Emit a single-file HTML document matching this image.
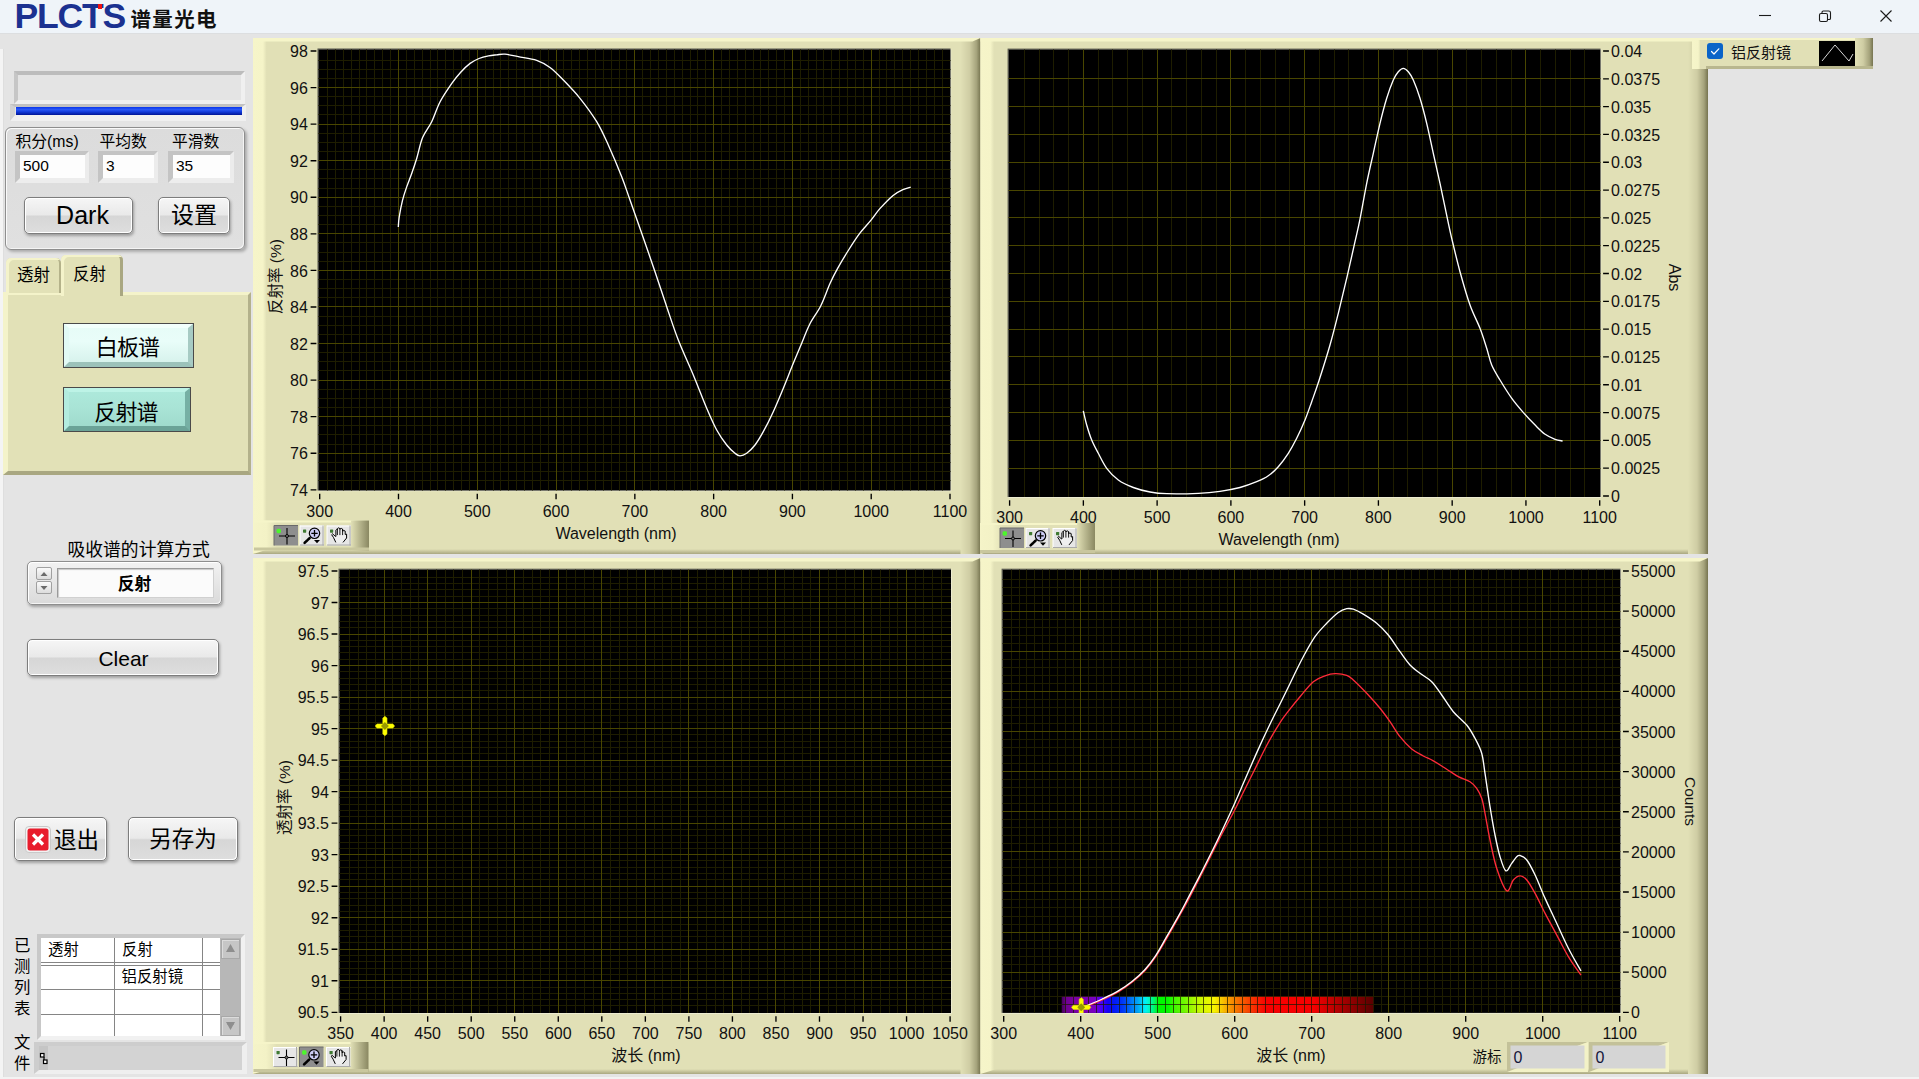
<!DOCTYPE html>
<html lang="zh-CN"><head><meta charset="utf-8"><title>谱量光电</title>
<style>
html,body{margin:0;padding:0;background:#e4e4e4;}
body{width:1919px;height:1079px;overflow:hidden;font-family:"Liberation Sans","Noto Sans CJK SC",sans-serif;color:#000;}
#app{position:relative;width:1919px;height:1079px;overflow:hidden;background:#e4e4e4;}
#app div,#app span{position:absolute;box-sizing:border-box;white-space:nowrap;}
.titlebar{left:0;top:0;width:1919px;height:34px;background:#eff4f9;border-bottom:1px solid #dcdee0;}
.logo{left:14.5px;top:-5px;font-size:35.6px;font-weight:bold;color:#1b3190;letter-spacing:-1.25px;line-height:42px;}
.logodot{left:97.5px;top:3.8px;width:4.4px;height:5px;background:#f01212;}
.brand{left:130.5px;top:4.7px;font-size:20.5px;font-weight:bold;line-height:30px;color:#111;letter-spacing:1.35px;}
.edgeL{left:0;top:49px;width:4px;height:1030px;background:#f4f4f4;border-right:1px solid #dedede;}
.edgeB{left:0;top:1077px;width:1919px;height:2px;background:#f3f3f3;}
/* sunken generic */
.sunk{border-style:solid;border-width:4px;border-color:#bcbcbc #f0f0f0 #f0f0f0 #c6c6c6;}
.msg{left:14px;top:71px;width:231px;height:33px;background:#e4e4e4;}
.progwrap{left:10px;top:104px;width:236px;height:17px;border-style:solid;border-width:3px 4px 6px 5px;border-color:#c2c2c2 #efefef #f0f0f0 #d2d2d2;}
.prog{left:15.5px;top:106.7px;width:226.5px;height:8.6px;background:linear-gradient(#0a36ee 0%,#2a58f6 32%,#1038d8 62%,#001494 100%);}
.group{left:5px;top:127px;width:240px;height:123px;border:1px solid #8e8e8e;border-radius:6px;background:linear-gradient(#dcdcdc,#e0e0e0);box-shadow:inset 1px 1px 0 #fafafa,inset -1px -1px 0 #f4f4f4,2px 2px 3px rgba(0,0,0,.25);}
.lab15{font-size:15.8px;line-height:18px;}
.num{background:#fdfdfd;border-style:solid;border-width:4px 4px 5px 5px;border-color:#c4c4c4 #ececec #ededed #c4c4c4;font-size:15.5px;line-height:21.5px;padding-left:3px;}
.btn{border:1px solid #7d7d7d;border-radius:5px;background:linear-gradient(#f6f6f6 0%,#e9e9e9 48%,#d6d6d6 52%,#dedede 100%);box-shadow:inset 1px 1px 0 #fff,inset -1px -1px 0 #fff,1px 2px 3px rgba(0,0,0,.3);text-align:center;}
.tab{background:#e2e1b7;border-radius:5px 5px 0 0;font-size:16.5px;text-align:center;box-shadow:inset 3px 2px 0 #f4f3ca,inset -2px 0 0 #b4b28a;}
.tabbody{left:3px;top:292px;width:248px;height:183px;background:#e2e1b7;border-style:solid;border-width:3px 3px 4px 5px;border-color:#f4f3ca #b3b18b #a9a781 #f4f3ca;}
.cy1{left:63px;top:323px;width:131px;height:45px;border:1px solid #4a4a4a;background:linear-gradient(#e6fcf7 0%,#e9fdf9 40%,#d3f0ea 100%);font-size:22px;letter-spacing:-.9px;line-height:48px;text-align:center;padding-right:2px;}
.cy2{left:63px;top:387px;width:128px;height:45px;border:1px solid #4a4a4a;background:linear-gradient(#aeeadc 0%,#a9e4d6 45%,#9dd9ca 100%);font-size:22px;letter-spacing:-.9px;line-height:49px;text-align:center;padding-right:2px;}
.ring{left:27px;top:561px;width:195px;height:44px;border:1px solid #8e8e8e;border-radius:5px;background:linear-gradient(#f2f2f2,#dadada);box-shadow:inset 1px 1px 0 #fff,inset -1px -1px 0 #f4f4f4,1px 2px 3px rgba(0,0,0,.3);}
.ringtxt{left:57px;top:568px;width:157px;height:30px;background:#fbfbfb;border:1px solid #9a9a9a;border-bottom-color:#d0d0d0;border-right-color:#d0d0d0;font-size:16.8px;font-weight:bold;line-height:31px;text-align:center;padding-right:2px;box-shadow:inset 1px 1px 1px #c8c8c8;}
.spin{left:36px;width:16px;height:13px;border:1px solid #a0a0a0;border-radius:2px;background:linear-gradient(#fafafa,#dcdcdc);}
.tbl{left:37px;top:934px;width:208px;height:106px;border-style:solid;border-width:4px;border-color:#c8c8c8 #f1f1f1 #f1f1f1 #c8c8c8;background:#fff;}
.cell{font-size:15.4px;line-height:18px;}
.vline{width:1px;background:#858585;}
.hline{height:1px;background:#858585;}
.sbar{left:220px;top:938px;width:21px;height:98px;background:#b7b7b7;}
.sbtn{left:221px;width:19px;height:20px;background:#c6c6c6;border:1px solid #a8a8a8;box-shadow:inset 1px 1px 0 #dcdcdc;}
.vtxt{font-size:16.4px;line-height:21px;width:16px;white-space:normal !important;text-align:center;}
.path{left:34px;top:1042px;width:213px;height:32px;border-style:solid;border-width:4px 5px 4px 5px;border-color:#cdcdcd #efefef #efefef #cdcdcd;background:#d3d3d3;}

.bev{left:0;top:0;right:0;bottom:0;border-style:solid;border-width:4px 5px 5px 5px;}

</style></head><body>
<div id="app">
<svg width="1919" height="1079" viewBox="0 0 1919 1079" style="position:absolute;left:0;top:0" font-family='Liberation Sans, Noto Sans CJK SC, sans-serif' font-size="16" fill="#111">
<defs>
<linearGradient id="bvl" x1="0" x2="1" y1="0" y2="0"><stop offset="0" stop-color="#f6f5c9"/><stop offset=".62" stop-color="#f5f4c8"/><stop offset=".85" stop-color="#e1e0b6"/></linearGradient>
<linearGradient id="bvr" x1="0" x2="1" y1="0" y2="0"><stop offset="0" stop-color="#e1e0b6"/><stop offset=".45" stop-color="#cfcda4"/><stop offset=".8" stop-color="#a5a37c"/><stop offset="1" stop-color="#767450"/></linearGradient>
<linearGradient id="bvb" x1="0" x2="0" y1="0" y2="1"><stop offset="0" stop-color="#e1e0b6"/><stop offset="1" stop-color="#a9a780"/></linearGradient>
<linearGradient id="palg" x1="0" x2="1" y1="0" y2="0"><stop offset="0" stop-color="#f5f4c8"/><stop offset=".11" stop-color="#f3f2c6"/><stop offset=".2" stop-color="#e1e0b6"/><stop offset="1" stop-color="#e1e0b6"/></linearGradient>
<linearGradient id="palr" x1="0" x2="1" y1="0" y2="0"><stop offset="0" stop-color="#e1e0b6"/><stop offset="1" stop-color="#8a8862"/></linearGradient>
<linearGradient id="spec" x1="0" x2="1" y1="0" y2="0"><stop offset="0.0000" stop-color="#46005a"/><stop offset="0.0074" stop-color="#5c0078"/><stop offset="0.0149" stop-color="#730096"/><stop offset="0.0223" stop-color="#76009b"/><stop offset="0.0297" stop-color="#79009f"/><stop offset="0.0371" stop-color="#7b00a4"/><stop offset="0.0446" stop-color="#7e00a9"/><stop offset="0.0520" stop-color="#8000ad"/><stop offset="0.0594" stop-color="#7f00b1"/><stop offset="0.0668" stop-color="#7f00b5"/><stop offset="0.0743" stop-color="#7f00b8"/><stop offset="0.0817" stop-color="#7e00bc"/><stop offset="0.0891" stop-color="#7e00bf"/><stop offset="0.0965" stop-color="#7e00c3"/><stop offset="0.1040" stop-color="#7d00c7"/><stop offset="0.1114" stop-color="#7200d8"/><stop offset="0.1188" stop-color="#6000ef"/><stop offset="0.1262" stop-color="#4e00ff"/><stop offset="0.1337" stop-color="#3b00ff"/><stop offset="0.1411" stop-color="#2800ff"/><stop offset="0.1485" stop-color="#1400ff"/><stop offset="0.1559" stop-color="#0e09ff"/><stop offset="0.1634" stop-color="#0812ff"/><stop offset="0.1708" stop-color="#021bff"/><stop offset="0.1782" stop-color="#0024ff"/><stop offset="0.1856" stop-color="#002dff"/><stop offset="0.1931" stop-color="#0036ff"/><stop offset="0.2005" stop-color="#0042ff"/><stop offset="0.2079" stop-color="#0054ff"/><stop offset="0.2153" stop-color="#0066ff"/><stop offset="0.2228" stop-color="#0078ff"/><stop offset="0.2302" stop-color="#008aff"/><stop offset="0.2376" stop-color="#009cff"/><stop offset="0.2450" stop-color="#00aeff"/><stop offset="0.2525" stop-color="#00c5ff"/><stop offset="0.2599" stop-color="#00deff"/><stop offset="0.2673" stop-color="#00f7ff"/><stop offset="0.2748" stop-color="#00ffe5"/><stop offset="0.2822" stop-color="#00ffbf"/><stop offset="0.2896" stop-color="#00ff99"/><stop offset="0.2970" stop-color="#00ff69"/><stop offset="0.3045" stop-color="#00ff34"/><stop offset="0.3119" stop-color="#00ff00"/><stop offset="0.3193" stop-color="#00ff00"/><stop offset="0.3267" stop-color="#00ff00"/><stop offset="0.3342" stop-color="#00ff00"/><stop offset="0.3416" stop-color="#07ff00"/><stop offset="0.3490" stop-color="#1cff00"/><stop offset="0.3564" stop-color="#31ff00"/><stop offset="0.3639" stop-color="#46ff00"/><stop offset="0.3713" stop-color="#52ff00"/><stop offset="0.3787" stop-color="#5dff00"/><stop offset="0.3861" stop-color="#69ff00"/><stop offset="0.3936" stop-color="#74ff00"/><stop offset="0.4010" stop-color="#81ff00"/><stop offset="0.4084" stop-color="#8fff00"/><stop offset="0.4158" stop-color="#9dff00"/><stop offset="0.4233" stop-color="#abff00"/><stop offset="0.4307" stop-color="#b8ff00"/><stop offset="0.4381" stop-color="#c3ff00"/><stop offset="0.4455" stop-color="#ceff00"/><stop offset="0.4530" stop-color="#daff00"/><stop offset="0.4604" stop-color="#e4ff00"/><stop offset="0.4678" stop-color="#ebff00"/><stop offset="0.4752" stop-color="#f2ff00"/><stop offset="0.4827" stop-color="#faff00"/><stop offset="0.4901" stop-color="#fffa00"/><stop offset="0.4975" stop-color="#ffec00"/><stop offset="0.5050" stop-color="#ffde00"/><stop offset="0.5124" stop-color="#ffd000"/><stop offset="0.5198" stop-color="#ffc200"/><stop offset="0.5272" stop-color="#ffb300"/><stop offset="0.5347" stop-color="#ffa500"/><stop offset="0.5421" stop-color="#ff9800"/><stop offset="0.5495" stop-color="#ff8c00"/><stop offset="0.5569" stop-color="#ff8000"/><stop offset="0.5644" stop-color="#ff7500"/><stop offset="0.5718" stop-color="#ff6b00"/><stop offset="0.5792" stop-color="#ff6100"/><stop offset="0.5866" stop-color="#ff5700"/><stop offset="0.5941" stop-color="#ff4d00"/><stop offset="0.6015" stop-color="#ff4300"/><stop offset="0.6089" stop-color="#ff3900"/><stop offset="0.6163" stop-color="#ff3000"/><stop offset="0.6238" stop-color="#ff2700"/><stop offset="0.6312" stop-color="#ff1e00"/><stop offset="0.6386" stop-color="#ff1500"/><stop offset="0.6460" stop-color="#ff0c00"/><stop offset="0.6535" stop-color="#ff0300"/><stop offset="0.6609" stop-color="#ff0000"/><stop offset="0.6683" stop-color="#ff0000"/><stop offset="0.6757" stop-color="#ff0000"/><stop offset="0.6832" stop-color="#ff0000"/><stop offset="0.6906" stop-color="#ff0000"/><stop offset="0.6980" stop-color="#ff0000"/><stop offset="0.7054" stop-color="#ff0000"/><stop offset="0.7129" stop-color="#ff0000"/><stop offset="0.7203" stop-color="#ff0000"/><stop offset="0.7277" stop-color="#ff0000"/><stop offset="0.7351" stop-color="#ff0000"/><stop offset="0.7426" stop-color="#ff0000"/><stop offset="0.7500" stop-color="#ff0000"/><stop offset="0.7574" stop-color="#ff0000"/><stop offset="0.7649" stop-color="#ff0000"/><stop offset="0.7723" stop-color="#ff0000"/><stop offset="0.7797" stop-color="#ff0000"/><stop offset="0.7871" stop-color="#ff0000"/><stop offset="0.7946" stop-color="#ff0000"/><stop offset="0.8020" stop-color="#ff0000"/><stop offset="0.8094" stop-color="#fb0000"/><stop offset="0.8168" stop-color="#f40000"/><stop offset="0.8243" stop-color="#ee0000"/><stop offset="0.8317" stop-color="#e80000"/><stop offset="0.8391" stop-color="#e10000"/><stop offset="0.8465" stop-color="#db0000"/><stop offset="0.8540" stop-color="#d40000"/><stop offset="0.8614" stop-color="#ce0000"/><stop offset="0.8688" stop-color="#c80000"/><stop offset="0.8762" stop-color="#c10000"/><stop offset="0.8837" stop-color="#bb0000"/><stop offset="0.8911" stop-color="#b50000"/><stop offset="0.8985" stop-color="#ae0000"/><stop offset="0.9059" stop-color="#a80000"/><stop offset="0.9134" stop-color="#a20000"/><stop offset="0.9208" stop-color="#9c0000"/><stop offset="0.9282" stop-color="#960000"/><stop offset="0.9356" stop-color="#900000"/><stop offset="0.9431" stop-color="#8a0000"/><stop offset="0.9505" stop-color="#840000"/><stop offset="0.9579" stop-color="#7e0000"/><stop offset="0.9653" stop-color="#780000"/><stop offset="0.9728" stop-color="#720000"/><stop offset="0.9802" stop-color="#6c0000"/><stop offset="0.9876" stop-color="#660000"/><stop offset="0.9950" stop-color="#600000"/></linearGradient>
</defs>
<rect x="253" y="38" width="727.5" height="516" fill="#e1e0b6"/>
<rect x="253" y="549" width="727.5" height="5" fill="url(#bvb)"/>
<rect x="960.5" y="38" width="20" height="516" fill="url(#bvr)"/>
<polygon points="253,38 269,38 269,549 253,554" fill="url(#bvl)"/>
<polygon points="253,38 980.5,38 972.5,41.5 253,41.5" fill="#f6f5c9"/>
<rect x="317.5" y="48.5" width="633" height="442" fill="#55554a"/>
<rect x="318.4" y="49.4" width="632.8" height="441.8" fill="#f1f0dc"/>
<rect x="318.4" y="49.4" width="632.1" height="441.1" fill="#000"/>
<path d="M327.5 49.4V490.5M335.5 49.4V490.5M343.5 49.4V490.5M351.5 49.4V490.5M359.5 49.4V490.5M366.5 49.4V490.5M374.5 49.4V490.5M382.5 49.4V490.5M390.5 49.4V490.5M406.5 49.4V490.5M414.5 49.4V490.5M422.5 49.4V490.5M430.5 49.4V490.5M437.5 49.4V490.5M445.5 49.4V490.5M453.5 49.4V490.5M461.5 49.4V490.5M469.5 49.4V490.5M485.5 49.4V490.5M493.5 49.4V490.5M500.5 49.4V490.5M508.5 49.4V490.5M516.5 49.4V490.5M524.5 49.4V490.5M532.5 49.4V490.5M540.5 49.4V490.5M548.5 49.4V490.5M563.5 49.4V490.5M571.5 49.4V490.5M579.5 49.4V490.5M587.5 49.4V490.5M595.5 49.4V490.5M603.5 49.4V490.5M611.5 49.4V490.5M619.5 49.4V490.5M626.5 49.4V490.5M642.5 49.4V490.5M650.5 49.4V490.5M658.5 49.4V490.5M666.5 49.4V490.5M674.5 49.4V490.5M682.5 49.4V490.5M690.5 49.4V490.5M697.5 49.4V490.5M705.5 49.4V490.5M721.5 49.4V490.5M729.5 49.4V490.5M737.5 49.4V490.5M745.5 49.4V490.5M753.5 49.4V490.5M760.5 49.4V490.5M768.5 49.4V490.5M776.5 49.4V490.5M784.5 49.4V490.5M800.5 49.4V490.5M808.5 49.4V490.5M816.5 49.4V490.5M823.5 49.4V490.5M831.5 49.4V490.5M839.5 49.4V490.5M847.5 49.4V490.5M855.5 49.4V490.5M863.5 49.4V490.5M879.5 49.4V490.5M886.5 49.4V490.5M894.5 49.4V490.5M902.5 49.4V490.5M910.5 49.4V490.5M918.5 49.4V490.5M926.5 49.4V490.5M934.5 49.4V490.5M942.5 49.4V490.5M318.4 60.5H950.5M318.4 69.5H950.5M318.4 78.5H950.5M318.4 96.5H950.5M318.4 105.5H950.5M318.4 114.5H950.5M318.4 133.5H950.5M318.4 142.5H950.5M318.4 151.5H950.5M318.4 169.5H950.5M318.4 178.5H950.5M318.4 188.5H950.5M318.4 206.5H950.5M318.4 215.5H950.5M318.4 224.5H950.5M318.4 242.5H950.5M318.4 252.5H950.5M318.4 261.5H950.5M318.4 279.5H950.5M318.4 288.5H950.5M318.4 297.5H950.5M318.4 316.5H950.5M318.4 325.5H950.5M318.4 334.5H950.5M318.4 352.5H950.5M318.4 361.5H950.5M318.4 370.5H950.5M318.4 389.5H950.5M318.4 398.5H950.5M318.4 407.5H950.5M318.4 425.5H950.5M318.4 434.5H950.5M318.4 444.5H950.5M318.4 462.5H950.5M318.4 471.5H950.5M318.4 480.5H950.5" stroke="#1e1d00" stroke-width="1" fill="none"/>
<path d="M398.5 49.4V490.5M477.5 49.4V490.5M556.5 49.4V490.5M634.5 49.4V490.5M713.5 49.4V490.5M792.5 49.4V490.5M871.5 49.4V490.5M318.4 87.5H950.5M318.4 124.5H950.5M318.4 160.5H950.5M318.4 197.5H950.5M318.4 233.5H950.5M318.4 270.5H950.5M318.4 306.5H950.5M318.4 343.5H950.5M318.4 380.5H950.5M318.4 416.5H950.5M318.4 453.5H950.5" stroke="#494600" stroke-width="1" fill="none"/>
<text x="307.8" y="57.1" text-anchor="end">98</text>
<text x="307.8" y="93.67" text-anchor="end">96</text>
<text x="307.8" y="130.23" text-anchor="end">94</text>
<text x="307.8" y="166.8" text-anchor="end">92</text>
<text x="307.8" y="203.37" text-anchor="end">90</text>
<text x="307.8" y="239.93" text-anchor="end">88</text>
<text x="307.8" y="276.5" text-anchor="end">86</text>
<text x="307.8" y="313.07" text-anchor="end">84</text>
<text x="307.8" y="349.63" text-anchor="end">82</text>
<text x="307.8" y="386.2" text-anchor="end">80</text>
<text x="307.8" y="422.77" text-anchor="end">78</text>
<text x="307.8" y="459.33" text-anchor="end">76</text>
<text x="307.8" y="495.9" text-anchor="end">74</text>
<path d="M310.6 51h5.8M310.6 87.57h5.8M310.6 124.13h5.8M310.6 160.7h5.8M310.6 197.27h5.8M310.6 233.83h5.8M310.6 270.4h5.8M310.6 306.97h5.8M310.6 343.53h5.8M310.6 380.1h5.8M310.6 416.67h5.8M310.6 453.23h5.8M310.6 489.8h5.8" stroke="#000" stroke-width="1.35" fill="none"/>
<text x="319.7" y="516.5" text-anchor="middle">300</text>
<text x="398.49" y="516.5" text-anchor="middle">400</text>
<text x="477.27" y="516.5" text-anchor="middle">500</text>
<text x="556.06" y="516.5" text-anchor="middle">600</text>
<text x="634.85" y="516.5" text-anchor="middle">700</text>
<text x="713.64" y="516.5" text-anchor="middle">800</text>
<text x="792.42" y="516.5" text-anchor="middle">900</text>
<text x="871.21" y="516.5" text-anchor="middle">1000</text>
<text x="950" y="516.5" text-anchor="middle">1100</text>
<path d="M319.7 493.7v5.6M398.49 493.7v5.6M477.27 493.7v5.6M556.06 493.7v5.6M634.85 493.7v5.6M713.64 493.7v5.6M792.42 493.7v5.6M871.21 493.7v5.6M950 493.7v5.6" stroke="#000" stroke-width="1.35" fill="none"/>
<text x="616" y="539" text-anchor="middle">Wavelength (nm)</text>
<text transform="translate(281 276.500) rotate(-90)" text-anchor="middle" font-size="15.5">反射率 (%)</text>
<path d="M398.3 227 C398.45 225.33 398.5 221.45 399.2 217 C399.9 212.55 401.25 205.32 402.5 200.3 C403.75 195.28 405.17 191.37 406.7 186.9 C408.23 182.43 410.03 178.23 411.7 173.5 C413.37 168.77 414.88 164.48 416.7 158.5 C418.52 152.52 420.1 143.72 422.6 137.6 C425.1 131.48 428.78 127.77 431.7 121.8 C434.62 115.83 436.75 108.2 440.1 101.8 C443.45 95.4 448.4 88.28 451.8 83.4 C455.2 78.52 457.45 75.83 460.5 72.5 C463.55 69.17 467.02 65.73 470.1 63.4 C473.18 61.07 475.93 59.77 479 58.5 C482.07 57.23 485.55 56.42 488.5 55.8 C491.45 55.18 493.95 55.07 496.7 54.8 C499.45 54.53 501.4 53.88 505 54.2 C508.6 54.52 513.02 55.68 518.3 56.7 C523.58 57.72 531.42 58.5 536.7 60.3 C541.98 62.1 545.57 64.22 550 67.5 C554.43 70.78 558.3 74.87 563.3 80 C568.3 85.13 574.43 91.35 580 98.3 C585.57 105.25 591.98 113.92 596.7 121.7 C601.42 129.48 604.13 135.83 608.3 145 C612.47 154.17 618.08 167.53 621.7 176.7 C625.32 185.87 626.67 190.57 630 200 C633.33 209.43 637.53 221.35 641.7 233.3 C645.87 245.25 650.83 259.47 655 271.7 C659.17 283.93 662.82 295.32 666.7 306.7 C670.58 318.08 673.87 328.62 678.3 340 C682.73 351.38 688.57 363.62 693.3 375 C698.03 386.38 702.8 399.13 706.7 408.3 C710.6 417.47 713.37 423.88 716.7 430 C720.03 436.12 723.65 441.12 726.7 445 C729.75 448.88 732.78 451.5 735 453.3 C737.22 455.1 738.05 455.8 740 455.8 C741.95 455.8 744.2 455.1 746.7 453.3 C749.2 451.5 752.23 448.6 755 445 C757.77 441.4 760.25 437.25 763.3 431.7 C766.35 426.15 769.97 418.93 773.3 411.7 C776.63 404.47 779.97 396.37 783.3 388.3 C786.63 380.23 790.23 370.8 793.3 363.3 C796.37 355.8 798.97 349.82 801.7 343.3 C804.43 336.78 806.52 330.47 809.7 324.2 C812.88 317.93 817.42 312.48 820.8 305.7 C824.18 298.92 827.22 289.68 830 283.5 C832.78 277.32 834.4 274.18 837.5 268.6 C840.6 263.02 844.9 255.87 848.6 250 C852.3 244.13 856 238.33 859.7 233.4 C863.4 228.47 867.4 224.57 870.8 220.4 C874.2 216.23 876.38 212.57 880.1 208.4 C883.82 204.23 889.4 198.48 893.1 195.4 C896.8 192.32 899.37 191.28 902.3 189.9 C905.23 188.52 909.3 187.57 910.7 187.1" stroke="#fff" stroke-width="1.35" fill="none"/>
<g transform="translate(254 520.5)">
<rect x="0" y="0" width="115" height="30" fill="url(#palg)"/>
<rect x="0" y="0" width="115" height="2" fill="#f6f5c9"/>
<rect x="97" y="0" width="18" height="30" fill="url(#palr)"/>
<rect x="0" y="27" width="115" height="3" fill="#c9c79e"/>
<rect x="20" y="5" width="24" height="20" fill="#8e8e8e"/>
<path d="M20 25V5H44" stroke="#6a6a6a" fill="none"/>
<rect x="22.6" y="8.3" width="4.4" height="4.4" rx="1.4" fill="#4cf62c"/>
<rect x="46" y="5" width="24" height="20" fill="#e6e6e6"/>
<path d="M46 5.5H70M46 5V25" stroke="#fff" fill="none"/>
<path d="M46 24.5H70M69 5V25" stroke="#aaa" fill="none"/>
<rect x="49" y="9" width="3.2" height="3.2" rx=".6" fill="#3f7a32"/>
<rect x="73" y="5" width="24" height="20" fill="#e6e6e6"/>
<path d="M73 5.5H97M73 5V25" stroke="#fff" fill="none"/>
<path d="M73 24.5H97M96 5V25" stroke="#aaa" fill="none"/>
<rect x="76" y="9" width="3.2" height="3.2" rx=".6" fill="#3f7a32"/>
<path d="M33 7.5V24M25 15.5H41" stroke="#000" stroke-width="1.1" fill="none"/>
<circle cx="33" cy="15.5" r="1.5" fill="#777" stroke="#000" stroke-width=".9"/>
<circle cx="60.5" cy="12.8" r="5.2" fill="#ccccf4" stroke="#000" stroke-width="1.2"/>
<path d="M57.3 12.8h6.4M60.5 9.6v6.4" stroke="#000" stroke-width="1.3"/>
<path d="M55.6 17.6L50.6 22.4" stroke="#000" stroke-width="2.6" stroke-linecap="round" stroke-dasharray="1.3 .6"/>
<path d="M60 19.6h6l-3 3.2z" fill="#000"/>
<g transform="translate(73 5)"><path d="M8.8 16.9L6.6 12.2L4.7 9.2L5.6 8.3L8.2 10.7L8.9 11V4.6Q9.65 3.2 10.4 4.6V3.1Q11.65 1.6 12.9 3.1V3.6Q14.25 2.2 15.6 3.6V5.6Q16.9 4.4 18.2 5.6V9L19.6 8.6V12.5L16 16.9" fill="#efefef" stroke="#000" stroke-width="1" stroke-linejoin="round"/><path d="M10.4 4.6V9.6M12.9 3.1V9.6M15.6 3.600V9.6" stroke="#000" stroke-width=".9" fill="none"/></g>
</g>
<rect x="980.5" y="38" width="727.5" height="516" fill="#e1e0b6"/>
<rect x="980.5" y="549" width="727.5" height="5" fill="url(#bvb)"/>
<rect x="1688" y="38" width="20" height="516" fill="url(#bvr)"/>
<polygon points="980.5,38 996.5,38 996.5,549 980.5,554" fill="url(#bvl)"/>
<polygon points="980.5,38 1708,38 1700,41.5 980.5,41.5" fill="#f6f5c9"/>
<rect x="1007.6" y="48.6" width="592.9" height="448.4" fill="#55554a"/>
<rect x="1008.5" y="49.5" width="592.7" height="448.2" fill="#f1f0dc"/>
<rect x="1008.5" y="49.5" width="592" height="447.5" fill="#000"/>
<path d="M1024.5 49.5V497M1039.5 49.5V497M1053.5 49.5V497M1068.5 49.5V497M1098.5 49.5V497M1112.5 49.5V497M1127.5 49.5V497M1142.5 49.5V497M1171.5 49.5V497M1186.5 49.5V497M1201.5 49.5V497M1216.5 49.5V497M1245.5 49.5V497M1260.5 49.5V497M1275.5 49.5V497M1289.5 49.5V497M1319.5 49.5V497M1334.5 49.5V497M1348.5 49.5V497M1363.5 49.5V497M1393.5 49.5V497M1407.5 49.5V497M1422.5 49.5V497M1437.5 49.5V497M1466.5 49.5V497M1481.5 49.5V497M1496.5 49.5V497M1511.5 49.5V497M1540.5 49.5V497M1555.5 49.5V497M1570.5 49.5V497M1584.5 49.5V497" stroke="#1e1d00" stroke-width="1" fill="none"/>
<path d="M1083.5 49.5V497M1157.5 49.5V497M1230.5 49.5V497M1304.5 49.5V497M1378.5 49.5V497M1452.5 49.5V497M1525.5 49.5V497M1008.5 78.5H1600.5M1008.5 106.5H1600.5M1008.5 134.5H1600.5M1008.5 162.5H1600.5M1008.5 190.5H1600.5M1008.5 217.5H1600.5M1008.5 245.5H1600.5M1008.5 273.5H1600.5M1008.5 301.5H1600.5M1008.5 329.5H1600.5M1008.5 356.5H1600.5M1008.5 384.5H1600.5M1008.5 412.5H1600.5M1008.5 440.5H1600.5M1008.5 468.5H1600.5" stroke="#494600" stroke-width="1" fill="none"/>
<text x="1611.1" y="57.1">0.04</text>
<text x="1611.1" y="84.91">0.0375</text>
<text x="1611.1" y="112.72">0.035</text>
<text x="1611.1" y="140.54">0.0325</text>
<text x="1611.1" y="168.35">0.03</text>
<text x="1611.1" y="196.16">0.0275</text>
<text x="1611.1" y="223.97">0.025</text>
<text x="1611.1" y="251.79">0.0225</text>
<text x="1611.1" y="279.6">0.02</text>
<text x="1611.1" y="307.41">0.0175</text>
<text x="1611.1" y="335.23">0.015</text>
<text x="1611.1" y="363.04">0.0125</text>
<text x="1611.1" y="390.85">0.01</text>
<text x="1611.1" y="418.66">0.0075</text>
<text x="1611.1" y="446.48">0.005</text>
<text x="1611.1" y="474.29">0.0025</text>
<text x="1611.1" y="502.1">0</text>
<path d="M1603.1 51h5.8M1603.1 78.81h5.8M1603.1 106.62h5.8M1603.1 134.44h5.8M1603.1 162.25h5.8M1603.1 190.06h5.8M1603.1 217.88h5.8M1603.1 245.69h5.8M1603.1 273.5h5.8M1603.1 301.31h5.8M1603.1 329.12h5.8M1603.1 356.94h5.8M1603.1 384.75h5.8M1603.1 412.56h5.8M1603.1 440.38h5.8M1603.1 468.19h5.8M1603.1 496h5.8" stroke="#000" stroke-width="1.35" fill="none"/>
<text x="1009.6" y="522.7" text-anchor="middle">300</text>
<text x="1083.36" y="522.7" text-anchor="middle">400</text>
<text x="1157.12" y="522.7" text-anchor="middle">500</text>
<text x="1230.89" y="522.7" text-anchor="middle">600</text>
<text x="1304.65" y="522.7" text-anchor="middle">700</text>
<text x="1378.41" y="522.7" text-anchor="middle">800</text>
<text x="1452.18" y="522.7" text-anchor="middle">900</text>
<text x="1525.94" y="522.7" text-anchor="middle">1000</text>
<text x="1599.7" y="522.7" text-anchor="middle">1100</text>
<path d="M1009.6 500.2v5.6M1083.36 500.2v5.6M1157.12 500.2v5.6M1230.89 500.2v5.6M1304.65 500.2v5.6M1378.41 500.2v5.6M1452.18 500.2v5.6M1525.94 500.2v5.6M1599.7 500.2v5.6" stroke="#000" stroke-width="1.35" fill="none"/>
<text x="1279" y="545" text-anchor="middle">Wavelength (nm)</text>
<text transform="translate(1668.500 277.500) rotate(90)" text-anchor="middle" font-size="16">Abs</text>
<path d="M1083.3 410.8 C1083.87 413.17 1085.3 420.13 1086.7 425 C1088.1 429.87 1089.77 435.28 1091.7 440 C1093.63 444.72 1095.8 448.58 1098.3 453.3 C1100.8 458.02 1103.37 463.85 1106.7 468.3 C1110.03 472.75 1113.87 476.8 1118.3 480 C1122.73 483.2 1128.02 485.5 1133.3 487.5 C1138.58 489.5 1144.43 490.97 1150 492 C1155.57 493.03 1158.65 493.48 1166.7 493.7 C1174.75 493.92 1189.42 493.7 1198.3 493.3 C1207.18 492.9 1213.05 492.27 1220 491.3 C1226.95 490.33 1233.88 489.1 1240 487.5 C1246.12 485.9 1251.98 483.65 1256.7 481.7 C1261.42 479.75 1264.7 478.3 1268.3 475.8 C1271.9 473.3 1274.97 470.45 1278.3 466.7 C1281.63 462.95 1285.23 458.03 1288.3 453.3 C1291.37 448.57 1293.92 443.85 1296.7 438.3 C1299.48 432.75 1302.5 426.1 1305 420 C1307.5 413.9 1309.33 408.37 1311.7 401.7 C1314.07 395.03 1316.15 389.45 1319.2 380 C1322.25 370.55 1326.82 356.12 1330 345 C1333.18 333.88 1335.52 324.42 1338.3 313.3 C1341.08 302.18 1343.92 290.23 1346.7 278.3 C1349.48 266.37 1352.78 251.55 1355 241.7 C1357.22 231.85 1358.05 228.93 1360 219.2 C1361.95 209.47 1364.48 194.28 1366.7 183.3 C1368.92 172.32 1371.08 163.3 1373.3 153.3 C1375.52 143.3 1377.77 132.47 1380 123.3 C1382.23 114.13 1384.48 105.52 1386.7 98.3 C1388.92 91.08 1391.37 84.43 1393.3 80 C1395.23 75.57 1396.63 73.65 1398.3 71.7 C1399.97 69.75 1401.63 68.3 1403.3 68.3 C1404.97 68.3 1406.63 69.75 1408.3 71.7 C1409.97 73.65 1411.35 75.57 1413.3 80 C1415.25 84.43 1417.77 91.08 1420 98.3 C1422.23 105.52 1424.48 114.13 1426.7 123.3 C1428.92 132.47 1431.08 143.3 1433.3 153.3 C1435.52 163.3 1437.63 172.32 1440 183.3 C1442.37 194.28 1445.55 210.03 1447.5 219.2 C1449.45 228.37 1449.62 229.55 1451.7 238.3 C1453.78 247.05 1456.95 260.58 1460 271.7 C1463.05 282.82 1466.67 295.57 1470 305 C1473.33 314.43 1477.22 321.08 1480 328.3 C1482.78 335.52 1484.75 342.18 1486.7 348.3 C1488.65 354.42 1489.48 359.72 1491.7 365 C1493.92 370.28 1496.65 374.43 1500 380 C1503.35 385.57 1507.9 392.97 1511.8 398.4 C1515.7 403.83 1519.52 408.15 1523.4 412.6 C1527.28 417.05 1531.48 421.48 1535.1 425.1 C1538.72 428.72 1541.77 431.93 1545.1 434.3 C1548.43 436.67 1552.18 438.18 1555.1 439.3 C1558.02 440.42 1561.35 440.72 1562.6 441" stroke="#fff" stroke-width="1.35" fill="none"/>
<g transform="translate(980 523)">
<rect x="0" y="0" width="115" height="30" fill="url(#palg)"/>
<rect x="0" y="0" width="115" height="2" fill="#f6f5c9"/>
<rect x="97" y="0" width="18" height="30" fill="url(#palr)"/>
<rect x="0" y="27" width="115" height="3" fill="#c9c79e"/>
<rect x="20" y="5" width="24" height="20" fill="#8e8e8e"/>
<path d="M20 25V5H44" stroke="#6a6a6a" fill="none"/>
<rect x="22.6" y="8.3" width="4.4" height="4.4" rx="1.4" fill="#4cf62c"/>
<rect x="46" y="5" width="24" height="20" fill="#e6e6e6"/>
<path d="M46 5.5H70M46 5V25" stroke="#fff" fill="none"/>
<path d="M46 24.5H70M69 5V25" stroke="#aaa" fill="none"/>
<rect x="49" y="9" width="3.2" height="3.2" rx=".6" fill="#3f7a32"/>
<rect x="73" y="5" width="24" height="20" fill="#e6e6e6"/>
<path d="M73 5.5H97M73 5V25" stroke="#fff" fill="none"/>
<path d="M73 24.5H97M96 5V25" stroke="#aaa" fill="none"/>
<rect x="76" y="9" width="3.2" height="3.2" rx=".6" fill="#3f7a32"/>
<path d="M33 7.5V24M25 15.5H41" stroke="#000" stroke-width="1.1" fill="none"/>
<circle cx="33" cy="15.5" r="1.5" fill="#777" stroke="#000" stroke-width=".9"/>
<circle cx="60.5" cy="12.8" r="5.2" fill="#ccccf4" stroke="#000" stroke-width="1.2"/>
<path d="M57.3 12.8h6.4M60.5 9.6v6.4" stroke="#000" stroke-width="1.3"/>
<path d="M55.6 17.6L50.6 22.4" stroke="#000" stroke-width="2.6" stroke-linecap="round" stroke-dasharray="1.3 .6"/>
<path d="M60 19.6h6l-3 3.2z" fill="#000"/>
<g transform="translate(73 5)"><path d="M8.8 16.9L6.6 12.2L4.7 9.2L5.6 8.3L8.2 10.7L8.9 11V4.6Q9.65 3.2 10.4 4.6V3.1Q11.65 1.6 12.9 3.1V3.6Q14.25 2.2 15.6 3.6V5.6Q16.9 4.4 18.2 5.6V9L19.6 8.6V12.5L16 16.9" fill="#efefef" stroke="#000" stroke-width="1" stroke-linejoin="round"/><path d="M10.4 4.6V9.6M12.9 3.1V9.6M15.6 3.600V9.6" stroke="#000" stroke-width=".9" fill="none"/></g>
</g>
<rect x="253" y="558" width="727.5" height="516" fill="#e1e0b6"/>
<rect x="253" y="1069" width="727.5" height="5" fill="url(#bvb)"/>
<rect x="960.5" y="558" width="20" height="516" fill="url(#bvr)"/>
<polygon points="253,558 269,558 269,1069 253,1074" fill="url(#bvl)"/>
<polygon points="253,558 980.5,558 972.5,561.5 253,561.5" fill="#f6f5c9"/>
<rect x="338.5" y="568.7" width="612.5" height="444.3" fill="#55554a"/>
<rect x="339.4" y="569.6" width="612.3" height="444.1" fill="#f1f0dc"/>
<rect x="339.4" y="569.6" width="611.6" height="443.4" fill="#000"/>
<path d="M349.5 569.6V1013M358.5 569.6V1013M366.5 569.6V1013M375.5 569.6V1013M392.5 569.6V1013M401.5 569.6V1013M410.5 569.6V1013M418.5 569.6V1013M436.5 569.6V1013M445.5 569.6V1013M453.5 569.6V1013M462.5 569.6V1013M479.5 569.6V1013M488.5 569.6V1013M497.5 569.6V1013M506.5 569.6V1013M523.5 569.6V1013M532.5 569.6V1013M540.5 569.6V1013M549.5 569.6V1013M566.5 569.6V1013M575.5 569.6V1013M584.5 569.6V1013M593.5 569.6V1013M610.5 569.6V1013M619.5 569.6V1013M627.5 569.6V1013M636.5 569.6V1013M654.5 569.6V1013M662.5 569.6V1013M671.5 569.6V1013M680.5 569.6V1013M697.5 569.6V1013M706.5 569.6V1013M715.5 569.6V1013M723.5 569.6V1013M741.5 569.6V1013M749.5 569.6V1013M758.5 569.6V1013M767.5 569.6V1013M784.5 569.6V1013M793.5 569.6V1013M802.5 569.6V1013M810.5 569.6V1013M828.5 569.6V1013M836.5 569.6V1013M845.5 569.6V1013M854.5 569.6V1013M871.5 569.6V1013M880.5 569.6V1013M889.5 569.6V1013M897.5 569.6V1013M915.5 569.6V1013M923.5 569.6V1013M932.5 569.6V1013M941.5 569.6V1013M339.4 577.5H951M339.4 583.5H951M339.4 589.5H951M339.4 596.5H951M339.4 608.5H951M339.4 615.5H951M339.4 621.5H951M339.4 627.5H951M339.4 640.5H951M339.4 646.5H951M339.4 652.5H951M339.4 659.5H951M339.4 671.5H951M339.4 678.5H951M339.4 684.5H951M339.4 690.5H951M339.4 703.5H951M339.4 709.5H951M339.4 715.5H951M339.4 722.5H951M339.4 734.5H951M339.4 741.5H951M339.4 747.5H951M339.4 753.5H951M339.4 766.5H951M339.4 772.5H951M339.4 779.5H951M339.4 785.5H951M339.4 797.5H951M339.4 804.5H951M339.4 810.5H951M339.4 816.5H951M339.4 829.5H951M339.4 835.5H951M339.4 842.5H951M339.4 848.5H951M339.4 860.5H951M339.4 867.5H951M339.4 873.5H951M339.4 879.5H951M339.4 892.5H951M339.4 898.5H951M339.4 905.5H951M339.4 911.5H951M339.4 924.5H951M339.4 930.5H951M339.4 936.5H951M339.4 942.5H951M339.4 955.5H951M339.4 961.5H951M339.4 968.5H951M339.4 974.5H951M339.4 987.5H951M339.4 993.5H951M339.4 999.5H951M339.4 1005.5H951" stroke="#1e1d00" stroke-width="1" fill="none"/>
<path d="M384.5 569.6V1013M427.5 569.6V1013M471.5 569.6V1013M514.5 569.6V1013M558.5 569.6V1013M601.5 569.6V1013M645.5 569.6V1013M688.5 569.6V1013M732.5 569.6V1013M775.5 569.6V1013M819.5 569.6V1013M863.5 569.6V1013M906.5 569.6V1013M339.4 602.5H951M339.4 634.5H951M339.4 665.5H951M339.4 697.5H951M339.4 728.5H951M339.4 760.5H951M339.4 791.5H951M339.4 823.5H951M339.4 854.5H951M339.4 886.5H951M339.4 917.5H951M339.4 949.5H951M339.4 980.5H951" stroke="#494600" stroke-width="1" fill="none"/>
<text x="328.8" y="577.1" text-anchor="end">97.5</text>
<text x="328.8" y="608.62" text-anchor="end">97</text>
<text x="328.8" y="640.14" text-anchor="end">96.5</text>
<text x="328.8" y="671.66" text-anchor="end">96</text>
<text x="328.8" y="703.19" text-anchor="end">95.5</text>
<text x="328.8" y="734.71" text-anchor="end">95</text>
<text x="328.8" y="766.23" text-anchor="end">94.5</text>
<text x="328.8" y="797.75" text-anchor="end">94</text>
<text x="328.8" y="829.27" text-anchor="end">93.5</text>
<text x="328.8" y="860.79" text-anchor="end">93</text>
<text x="328.8" y="892.31" text-anchor="end">92.5</text>
<text x="328.8" y="923.84" text-anchor="end">92</text>
<text x="328.8" y="955.36" text-anchor="end">91.5</text>
<text x="328.8" y="986.88" text-anchor="end">91</text>
<text x="328.8" y="1018.4" text-anchor="end">90.5</text>
<path d="M331.6 571h5.8M331.6 602.52h5.8M331.6 634.04h5.8M331.6 665.56h5.8M331.6 697.09h5.8M331.6 728.61h5.8M331.6 760.13h5.8M331.6 791.65h5.8M331.6 823.17h5.8M331.6 854.69h5.8M331.6 886.21h5.8M331.6 917.74h5.8M331.6 949.26h5.8M331.6 980.78h5.8M331.6 1012.3h5.8" stroke="#000" stroke-width="1.35" fill="none"/>
<text x="340.6" y="1038.5" text-anchor="middle">350</text>
<text x="384.14" y="1038.5" text-anchor="middle">400</text>
<text x="427.67" y="1038.5" text-anchor="middle">450</text>
<text x="471.21" y="1038.5" text-anchor="middle">500</text>
<text x="514.74" y="1038.5" text-anchor="middle">550</text>
<text x="558.28" y="1038.5" text-anchor="middle">600</text>
<text x="601.81" y="1038.5" text-anchor="middle">650</text>
<text x="645.35" y="1038.5" text-anchor="middle">700</text>
<text x="688.89" y="1038.5" text-anchor="middle">750</text>
<text x="732.42" y="1038.5" text-anchor="middle">800</text>
<text x="775.96" y="1038.5" text-anchor="middle">850</text>
<text x="819.49" y="1038.5" text-anchor="middle">900</text>
<text x="863.03" y="1038.5" text-anchor="middle">950</text>
<text x="906.56" y="1038.5" text-anchor="middle">1000</text>
<text x="950.1" y="1038.5" text-anchor="middle">1050</text>
<path d="M340.6 1016.2v5.6M384.14 1016.2v5.6M427.67 1016.2v5.6M471.21 1016.2v5.6M514.74 1016.2v5.6M558.28 1016.2v5.6M601.81 1016.2v5.6M645.35 1016.2v5.6M688.89 1016.2v5.6M732.42 1016.2v5.6M775.96 1016.2v5.6M819.49 1016.2v5.6M863.03 1016.2v5.6M906.56 1016.2v5.6M950.1 1016.2v5.6" stroke="#000" stroke-width="1.35" fill="none"/>
<text x="646" y="1061" text-anchor="middle">波长 (nm)</text>
<text transform="translate(290 797.500) rotate(-90)" text-anchor="middle" font-size="15.5">透射率 (%)</text>
<polygon points="382.8,723.9 382.8,718 384.9,716.3 387,718 387,723.9 392.9,723.9 394.6,726 392.9,728.1 387,728.1 387,734 384.9,735.7 382.8,734 382.8,728.1 376.9,728.1 375.2,726 376.9,723.9" fill="#ffff00" stroke="#d8d800" stroke-width=".6"/><rect x="382.1" y="723.2" width="5.6" height="5.6" fill="#8f8f00" transform="rotate(45 384.9 726)" opacity=".92"/>
<g transform="translate(253.5 1042)">
<rect x="0" y="0" width="115" height="30" fill="url(#palg)"/>
<rect x="0" y="0" width="115" height="2" fill="#f6f5c9"/>
<rect x="97" y="0" width="18" height="30" fill="url(#palr)"/>
<rect x="0" y="27" width="115" height="3" fill="#c9c79e"/>
<rect x="20" y="5" width="24" height="20" fill="#e6e6e6"/>
<path d="M20 5.5H44M20 5V25" stroke="#fff" fill="none"/>
<path d="M20 24.5H44M43 5V25" stroke="#aaa" fill="none"/>
<rect x="23" y="9" width="3.2" height="3.2" rx=".6" fill="#3f7a32"/>
<rect x="46" y="5" width="24" height="20" fill="#8e8e8e"/>
<path d="M46 25V5H70" stroke="#6a6a6a" fill="none"/>
<rect x="48.6" y="8.3" width="4.4" height="4.4" rx="1.4" fill="#4cf62c"/>
<rect x="73" y="5" width="24" height="20" fill="#e6e6e6"/>
<path d="M73 5.5H97M73 5V25" stroke="#fff" fill="none"/>
<path d="M73 24.5H97M96 5V25" stroke="#aaa" fill="none"/>
<rect x="76" y="9" width="3.2" height="3.2" rx=".6" fill="#3f7a32"/>
<path d="M33 7.5V24M25 15.5H41" stroke="#000" stroke-width="1.1" fill="none"/>
<circle cx="33" cy="15.5" r="1.5" fill="#777" stroke="#000" stroke-width=".9"/>
<circle cx="60.5" cy="12.8" r="5.2" fill="#ccccf4" stroke="#000" stroke-width="1.2"/>
<path d="M57.3 12.8h6.4M60.5 9.6v6.4" stroke="#000" stroke-width="1.3"/>
<path d="M55.6 17.6L50.6 22.4" stroke="#000" stroke-width="2.6" stroke-linecap="round" stroke-dasharray="1.3 .6"/>
<path d="M60 19.6h6l-3 3.2z" fill="#000"/>
<g transform="translate(73 5)"><path d="M8.8 16.9L6.6 12.2L4.7 9.2L5.6 8.3L8.2 10.7L8.9 11V4.6Q9.65 3.2 10.4 4.6V3.1Q11.65 1.6 12.9 3.1V3.6Q14.25 2.2 15.6 3.6V5.6Q16.9 4.4 18.2 5.6V9L19.6 8.6V12.5L16 16.9" fill="#efefef" stroke="#000" stroke-width="1" stroke-linejoin="round"/><path d="M10.4 4.6V9.6M12.9 3.1V9.6M15.6 3.600V9.6" stroke="#000" stroke-width=".9" fill="none"/></g>
</g>
<rect x="980.5" y="558" width="727.5" height="516" fill="#e1e0b6"/>
<rect x="980.5" y="1069" width="727.5" height="5" fill="url(#bvb)"/>
<rect x="1688" y="558" width="20" height="516" fill="url(#bvr)"/>
<polygon points="980.5,558 996.5,558 996.5,1069 980.5,1074" fill="url(#bvl)"/>
<polygon points="980.5,558 1708,558 1700,561.5 980.5,561.5" fill="#f6f5c9"/>
<rect x="1001.6" y="568.7" width="618.8" height="444.2" fill="#55554a"/>
<rect x="1002.5" y="569.6" width="618.6" height="444" fill="#f1f0dc"/>
<rect x="1002.5" y="569.6" width="617.9" height="443.3" fill="#000"/>
<path d="M1011.5 569.6V1012.9M1019.5 569.6V1012.9M1026.5 569.6V1012.9M1034.5 569.6V1012.9M1042.5 569.6V1012.9M1049.5 569.6V1012.9M1057.5 569.6V1012.9M1065.5 569.6V1012.9M1073.5 569.6V1012.9M1088.5 569.6V1012.9M1096.5 569.6V1012.9M1103.5 569.6V1012.9M1111.5 569.6V1012.9M1119.5 569.6V1012.9M1126.5 569.6V1012.9M1134.5 569.6V1012.9M1142.5 569.6V1012.9M1150.5 569.6V1012.9M1165.5 569.6V1012.9M1173.5 569.6V1012.9M1180.5 569.6V1012.9M1188.5 569.6V1012.9M1196.5 569.6V1012.9M1203.5 569.6V1012.9M1211.5 569.6V1012.9M1219.5 569.6V1012.9M1227.5 569.6V1012.9M1242.5 569.6V1012.9M1250.5 569.6V1012.9M1257.5 569.6V1012.9M1265.5 569.6V1012.9M1273.5 569.6V1012.9M1280.5 569.6V1012.9M1288.5 569.6V1012.9M1296.5 569.6V1012.9M1304.5 569.6V1012.9M1319.5 569.6V1012.9M1327.5 569.6V1012.9M1334.5 569.6V1012.9M1342.5 569.6V1012.9M1350.5 569.6V1012.9M1357.5 569.6V1012.9M1365.5 569.6V1012.9M1373.5 569.6V1012.9M1381.5 569.6V1012.9M1396.5 569.6V1012.9M1404.5 569.6V1012.9M1411.5 569.6V1012.9M1419.5 569.6V1012.9M1427.5 569.6V1012.9M1434.5 569.6V1012.9M1442.5 569.6V1012.9M1450.5 569.6V1012.9M1458.5 569.6V1012.9M1473.5 569.6V1012.9M1481.5 569.6V1012.9M1488.5 569.6V1012.9M1496.5 569.6V1012.9M1504.5 569.6V1012.9M1511.5 569.6V1012.9M1519.5 569.6V1012.9M1527.5 569.6V1012.9M1535.5 569.6V1012.9M1550.5 569.6V1012.9M1558.5 569.6V1012.9M1565.5 569.6V1012.9M1573.5 569.6V1012.9M1581.5 569.6V1012.9M1588.5 569.6V1012.9M1596.5 569.6V1012.9M1604.5 569.6V1012.9M1612.5 569.6V1012.9M1002.5 579.5H1620.4M1002.5 587.5H1620.4M1002.5 595.5H1620.4M1002.5 603.5H1620.4M1002.5 619.5H1620.4M1002.5 627.5H1620.4M1002.5 635.5H1620.4M1002.5 643.5H1620.4M1002.5 659.5H1620.4M1002.5 667.5H1620.4M1002.5 675.5H1620.4M1002.5 683.5H1620.4M1002.5 699.5H1620.4M1002.5 707.5H1620.4M1002.5 715.5H1620.4M1002.5 723.5H1620.4M1002.5 739.5H1620.4M1002.5 747.5H1620.4M1002.5 755.5H1620.4M1002.5 763.5H1620.4M1002.5 779.5H1620.4M1002.5 787.5H1620.4M1002.5 795.5H1620.4M1002.5 803.5H1620.4M1002.5 819.5H1620.4M1002.5 827.5H1620.4M1002.5 835.5H1620.4M1002.5 843.5H1620.4M1002.5 859.5H1620.4M1002.5 867.5H1620.4M1002.5 875.5H1620.4M1002.5 883.5H1620.4M1002.5 899.5H1620.4M1002.5 907.5H1620.4M1002.5 916.5H1620.4M1002.5 924.5H1620.4M1002.5 940.5H1620.4M1002.5 948.5H1620.4M1002.5 956.5H1620.4M1002.5 964.5H1620.4M1002.5 980.5H1620.4M1002.5 988.5H1620.4M1002.5 996.5H1620.4M1002.5 1004.5H1620.4" stroke="#1e1d00" stroke-width="1" fill="none"/>
<path d="M1080.5 569.6V1012.9M1157.5 569.6V1012.9M1234.5 569.6V1012.9M1311.5 569.6V1012.9M1388.5 569.6V1012.9M1465.5 569.6V1012.9M1542.5 569.6V1012.9M1002.5 611.5H1620.4M1002.5 651.5H1620.4M1002.5 691.5H1620.4M1002.5 731.5H1620.4M1002.5 771.5H1620.4M1002.5 811.5H1620.4M1002.5 851.5H1620.4M1002.5 891.5H1620.4M1002.5 932.5H1620.4M1002.5 972.5H1620.4" stroke="#494600" stroke-width="1" fill="none"/>
<g opacity="0.97"><rect x="1061.7" y="996.8" width="311.5" height="16.1" fill="url(#spec)"/></g>
<path d="M1065.5 996.8V1012.9M1073.5 996.8V1012.9M1080.5 996.8V1012.9M1088.5 996.8V1012.9M1096.5 996.8V1012.9M1103.5 996.8V1012.9M1111.5 996.8V1012.9M1119.5 996.8V1012.9M1126.5 996.8V1012.9M1134.5 996.8V1012.9M1142.5 996.8V1012.9M1150.5 996.8V1012.9M1157.5 996.8V1012.9M1165.5 996.8V1012.9M1173.5 996.8V1012.9M1180.5 996.8V1012.9M1188.5 996.8V1012.9M1196.5 996.8V1012.9M1203.5 996.8V1012.9M1211.5 996.8V1012.9M1219.5 996.8V1012.9M1227.5 996.8V1012.9M1234.5 996.8V1012.9M1242.5 996.8V1012.9M1250.5 996.8V1012.9M1257.5 996.8V1012.9M1265.5 996.8V1012.9M1273.5 996.8V1012.9M1280.5 996.8V1012.9M1288.5 996.8V1012.9M1296.5 996.8V1012.9M1304.5 996.8V1012.9M1311.5 996.8V1012.9M1319.5 996.8V1012.9M1327.5 996.8V1012.9M1334.5 996.8V1012.9M1342.5 996.8V1012.9M1350.5 996.8V1012.9M1357.5 996.8V1012.9M1365.5 996.8V1012.9M1061.7 1004.5H1373.2" stroke="#1a1800" stroke-opacity=".72" stroke-width="1" fill="none"/>
<text x="1631" y="577.1">55000</text>
<text x="1631" y="617.22">50000</text>
<text x="1631" y="657.34">45000</text>
<text x="1631" y="697.45">40000</text>
<text x="1631" y="737.57">35000</text>
<text x="1631" y="777.69">30000</text>
<text x="1631" y="817.81">25000</text>
<text x="1631" y="857.93">20000</text>
<text x="1631" y="898.05">15000</text>
<text x="1631" y="938.16">10000</text>
<text x="1631" y="978.28">5000</text>
<text x="1631" y="1018.4">0</text>
<path d="M1623 571h5.8M1623 611.12h5.8M1623 651.24h5.8M1623 691.35h5.8M1623 731.47h5.8M1623 771.59h5.8M1623 811.71h5.8M1623 851.83h5.8M1623 891.95h5.8M1623 932.06h5.8M1623 972.18h5.8M1623 1012.3h5.8" stroke="#000" stroke-width="1.35" fill="none"/>
<text x="1003.7" y="1038.5" text-anchor="middle">300</text>
<text x="1080.7" y="1038.5" text-anchor="middle">400</text>
<text x="1157.7" y="1038.5" text-anchor="middle">500</text>
<text x="1234.7" y="1038.5" text-anchor="middle">600</text>
<text x="1311.7" y="1038.5" text-anchor="middle">700</text>
<text x="1388.7" y="1038.5" text-anchor="middle">800</text>
<text x="1465.7" y="1038.5" text-anchor="middle">900</text>
<text x="1542.7" y="1038.5" text-anchor="middle">1000</text>
<text x="1619.7" y="1038.5" text-anchor="middle">1100</text>
<path d="M1003.7 1016.1v5.6M1080.7 1016.1v5.6M1157.7 1016.1v5.6M1234.7 1016.1v5.6M1311.7 1016.1v5.6M1388.7 1016.1v5.6M1465.7 1016.1v5.6M1542.7 1016.1v5.6M1619.7 1016.1v5.6" stroke="#000" stroke-width="1.35" fill="none"/>
<text x="1291" y="1061" text-anchor="middle">波长 (nm)</text>
<text transform="translate(1685 801.500) rotate(90)" text-anchor="middle" font-size="15.5">Counts</text>
<path d="M1081 1008 C1082 1007.7 1083.37 1007.6 1087 1006.2 C1090.63 1004.8 1097.57 1002 1102.8 999.6 C1108.03 997.2 1113.4 994.77 1118.4 991.8 C1123.4 988.83 1128.35 985.33 1132.8 981.8 C1137.25 978.27 1141.2 974.87 1145.1 970.6 C1149 966.33 1152.5 961.73 1156.2 956.2 C1159.9 950.67 1163.23 944.43 1167.3 937.4 C1171.37 930.37 1177.1 920.25 1180.6 914 C1184.1 907.75 1184.38 907.35 1188.3 899.9 C1192.22 892.45 1198.98 879.35 1204.1 869.3 C1209.22 859.25 1214.05 849.18 1219 839.6 C1223.95 830.02 1229.78 819.6 1233.8 811.8 C1237.82 804 1239.7 799.68 1243.1 792.8 C1246.5 785.92 1250.18 778.55 1254.2 770.5 C1258.22 762.45 1262.87 752.53 1267.2 744.5 C1271.53 736.47 1276.18 728.48 1280.2 722.3 C1284.22 716.12 1288 711.67 1291.3 707.4 C1294.6 703.13 1296.33 700.98 1300 696.7 C1303.67 692.42 1309.13 685.18 1313.3 681.7 C1317.47 678.22 1321.38 677.13 1325 675.8 C1328.62 674.47 1331.38 673.78 1335 673.7 C1338.62 673.62 1343.65 674.25 1346.7 675.3 C1349.75 676.35 1349.97 677 1353.3 680 C1356.63 683 1362.25 688.58 1366.7 693.3 C1371.15 698.02 1376.12 703.57 1380 708.3 C1383.88 713.03 1386.67 716.97 1390 721.7 C1393.33 726.43 1396.38 732.15 1400 736.7 C1403.62 741.25 1407.82 745.78 1411.7 749 C1415.58 752.22 1419.7 754.03 1423.3 756 C1426.9 757.97 1429.4 758.6 1433.3 760.8 C1437.2 763 1442.53 766.55 1446.7 769.2 C1450.87 771.85 1454.42 774.62 1458.3 776.7 C1462.18 778.78 1466.93 779.77 1470 781.7 C1473.07 783.63 1474.75 785.53 1476.7 788.3 C1478.65 791.07 1480.32 794.13 1481.7 798.3 C1483.08 802.47 1483.62 806.35 1485 813.3 C1486.38 820.25 1488.05 830.83 1490 840 C1491.95 849.17 1493.92 859.83 1496.7 868.3 C1499.48 876.77 1503.93 888.85 1506.7 890.8 C1509.47 892.75 1511.07 882.48 1513.3 880 C1515.53 877.52 1517.85 875.9 1520.1 875.9 C1522.35 875.9 1524.3 877.08 1526.8 880 C1529.3 882.92 1532.05 887.83 1535.1 893.4 C1538.15 898.97 1541.48 906.45 1545.1 913.4 C1548.72 920.35 1552.9 927.87 1556.8 935.1 C1560.7 942.33 1564.47 950.12 1568.5 956.8 C1572.53 963.48 1578.92 972.13 1581 975.2" stroke="#ff2a3a" stroke-width="1.35" fill="none"/>
<path d="M1081 1007.5 C1081.95 1007.18 1083.15 1007.02 1086.7 1005.6 C1090.25 1004.18 1097.1 1001.4 1102.3 999 C1107.5 996.6 1112.9 994.17 1117.9 991.2 C1122.9 988.23 1127.85 984.73 1132.3 981.2 C1136.75 977.67 1140.7 974.27 1144.6 970 C1148.5 965.73 1152.02 961.15 1155.7 955.6 C1159.38 950.05 1162.65 943.75 1166.7 936.7 C1170.75 929.65 1176.55 919.52 1180 913.3 C1183.45 907.08 1183.68 906.5 1187.4 899.4 C1191.12 892.3 1197.35 880.43 1202.3 870.7 C1207.25 860.97 1212.17 851.2 1217.1 841 C1222.03 830.8 1227.27 819.7 1231.9 809.5 C1236.53 799.3 1240.57 789.7 1244.9 779.8 C1249.23 769.9 1253.57 759.68 1257.9 750.1 C1262.23 740.52 1266.88 730.65 1270.9 722.3 C1274.92 713.95 1278.27 707.6 1282 700 C1285.73 692.4 1289.75 683.92 1293.3 676.7 C1296.85 669.48 1299.68 663.37 1303.3 656.7 C1306.92 650.03 1311.1 642.27 1315 636.7 C1318.9 631.13 1322.82 627.33 1326.7 623.3 C1330.58 619.27 1334.97 614.93 1338.3 612.5 C1341.63 610.07 1344.2 609.25 1346.7 608.7 C1349.2 608.15 1350.53 608.28 1353.3 609.2 C1356.07 610.12 1359.4 611.85 1363.3 614.2 C1367.2 616.55 1372.53 619.83 1376.7 623.3 C1380.87 626.77 1384.42 630.27 1388.3 635 C1392.18 639.73 1396.38 646.7 1400 651.7 C1403.62 656.7 1406.67 661.4 1410 665 C1413.33 668.6 1416.38 670.52 1420 673.3 C1423.62 676.08 1428.08 678.08 1431.7 681.7 C1435.32 685.32 1438.1 690 1441.7 695 C1445.3 700 1449.13 706.7 1453.3 711.7 C1457.47 716.7 1463.08 720.57 1466.7 725 C1470.32 729.43 1472.5 733.58 1475 738.3 C1477.5 743.02 1480.03 747.47 1481.7 753.3 C1483.37 759.13 1483.62 764.4 1485 773.3 C1486.38 782.2 1488.33 796.42 1490 806.7 C1491.67 816.98 1493.33 826.67 1495 835 C1496.67 843.33 1498.2 850.73 1500 856.7 C1501.8 862.67 1503.85 869.7 1505.8 870.8 C1507.75 871.9 1509.88 865.65 1511.7 863.3 C1513.52 860.95 1515.3 858 1516.7 856.7 C1518.1 855.4 1518.42 854.95 1520.1 855.5 C1521.78 856.05 1524.3 856.75 1526.8 860 C1529.3 863.25 1532.05 868.6 1535.1 875 C1538.15 881.4 1541.48 890.32 1545.1 898.4 C1548.72 906.48 1552.9 915.15 1556.8 923.5 C1560.7 931.85 1564.47 940.58 1568.5 948.5 C1572.53 956.42 1578.92 967.25 1581 971" stroke="#fff" stroke-width="1.35" fill="none"/>
<g clip-path="url(#cc)"><clipPath id="cc"><rect x="1061.2" y="987.3" width="40" height="25.6"/></clipPath><polygon points="1079.1,1005.2 1079.1,999.3 1081.2,997.6 1083.3,999.3 1083.3,1005.2 1089.2,1005.2 1090.9,1007.3 1089.2,1009.4 1083.3,1009.4 1083.3,1015.3 1081.2,1017 1079.1,1015.3 1079.1,1009.4 1073.2,1009.4 1071.5,1007.3 1073.2,1005.2" fill="#ffff00" stroke="#d8d800" stroke-width=".6"/><rect x="1078.4" y="1004.5" width="5.6" height="5.6" fill="#8f8f00" transform="rotate(45 1081.2 1007.3)" opacity=".92"/></g>
<text x="1487" y="1062" text-anchor="middle" font-size="14.5">游标</text>
<polygon points="1507,1072 1507,1042 1588,1042" fill="#c3c199"/>
<polygon points="1507,1072 1588,1072 1588,1042" fill="#f3f2c7"/>
<rect x="1510.5" y="1045.5" width="74" height="23" fill="#d5d5d5"/>
<text x="1513.5" y="1063" fill="#15153a">0</text>
<polygon points="1589,1072 1589,1042 1669,1042" fill="#c3c199"/>
<polygon points="1589,1072 1669,1072 1669,1042" fill="#f3f2c7"/>
<rect x="1592.5" y="1045.5" width="73" height="23" fill="#d5d5d5"/>
<text x="1595.5" y="1063" fill="#15153a">0</text>
<rect x="1692" y="38" width="181" height="31" fill="#e1e0b6"/>
<rect x="1692" y="38" width="10" height="31" fill="url(#bvl)"/>
<rect x="1692" y="38" width="178" height="2" fill="#f6f5c9"/>
<rect x="1855" y="38" width="18" height="31" fill="url(#bvr)"/>
<rect x="1706" y="66" width="167" height="3" fill="#b9b78f"/>
<rect x="1707" y="43" width="16" height="16" rx="3" fill="#0a64c8"/>
<path d="M1711.500 51.500l2.500 2.500 4.800-5.200" stroke="#fff" stroke-width="1.200" fill="none" stroke-linecap="round" stroke-linejoin="round"/>
<text x="1731" y="58" font-size="15">铝反射镜</text>
<rect x="1819" y="41" width="36" height="25" fill="#000"/>
<path d="M1822 61L1835 45L1849 61L1853 54" stroke="#d8d8d8" stroke-width="1" fill="none"/>
</svg>
<div class="titlebar"></div>
<div class="logo">PLCTS</div>
<div class="logodot"></div>
<div class="brand">谱量光电</div>
<svg width="160" height="33" viewBox="0 0 160 33" style="position:absolute;left:1750px;top:0" fill="none" stroke="#1a1a1a" stroke-width="1.1">
<path d="M9 15.5h12"/>
<rect x="69.5" y="13.5" width="8" height="8" rx="1.5"/><path d="M72 13.5v-1.2q0-1.3 1.3-1.3h5.4q1.8 0 1.8 1.8v5.4q0 1.3-1.3 1.3h-1.2"/>
<path d="M130.500 10.500l11 11M141.500 10.500l-11 11"/>
</svg>
<div class="edgeL"></div>
<div class="edgeB"></div>

<div class="msg sunk"></div>
<div class="progwrap"></div>
<div class="prog"></div>

<div class="group"></div>
<div class="lab15" style="left:15.500px;top:133px">积分(ms)</div>
<div class="lab15" style="left:99.500px;top:133px">平均数</div>
<div class="lab15" style="left:172px;top:133px">平滑数</div>
<div class="num" style="left:15px;top:151px;width:74px;height:32px">500</div>
<div class="num" style="left:98px;top:151px;width:60px;height:32px">3</div>
<div class="num" style="left:168px;top:151px;width:66px;height:32px">35</div>
<div class="btn" style="left:24px;top:197px;width:109px;height:37px;font-size:25px;line-height:34.500px;padding-left:8px">Dark</div>
<div class="btn" style="left:158px;top:197px;width:72px;height:37px;font-size:23px;line-height:35.500px">设置</div>

<div class="tabbody"></div>
<div class="tab" style="left:6px;top:258px;width:55px;height:35px;line-height:35px;">透射</div>
<div class="tab" style="left:61px;top:255px;width:62px;height:41px;line-height:38px;text-align:left;padding-left:12px;box-shadow:inset 3px 2px 0 #f4f3ca,inset -3px 0 0 #a9a781;">反射</div>
<div class="cy1"><div class="bev" style="border-color:#f2fffc #a7cbc4 #9cc2ba #e2faf5"></div>白板谱</div>
<div class="cy2"><div class="bev" style="border-color:#bdf3e6 #76b0a4 #6ba397 #b3ecdf"></div>反射谱</div>

<div style="left:67.500px;top:539px;font-size:17.800px;line-height:22px">吸收谱的计算方式</div>
<div class="ring"></div>
<div class="spin" style="top:567px"></div>
<div class="spin" style="top:581px"></div>
<svg width="18" height="28" viewBox="0 0 18 28" style="position:absolute;left:35px;top:567px"><path d="M5.500 9l3.500-4 3.500 4zM5.500 19l3.500 4 3.500-4z" fill="#6a6a6a"/></svg>
<div class="ringtxt">反射</div>
<div class="btn" style="left:27px;top:639px;width:192px;height:37px;font-size:21px;line-height:37px;padding-left:1px">Clear</div>

<div class="btn" style="left:14px;top:817px;width:93px;height:44px;"></div>
<svg width="26" height="27" viewBox="0 0 26 27" style="position:absolute;left:25px;top:826px"><rect x=".5" y=".5" width="25" height="26" rx="3.500" fill="#f2f2f2" stroke="#c9c9c9"/><rect x="2.500" y="2.500" width="21" height="22" rx="2.500" fill="#e81c2c"/><path d="M8 8.500l10 10M18 8.500l-10 10" stroke="#fff" stroke-width="3.200"/></svg>
<div style="left:54px;top:824.5px;font-size:22.5px;line-height:32px">退出</div>
<div class="btn" style="left:128px;top:817px;width:110px;height:44px;font-size:22.5px;line-height:43px">另存为</div>

<div class="vtxt" style="left:14px;top:935px">已测列表</div>
<div class="tbl"></div>
<div class="vline" style="left:114px;top:938px;height:98px"></div>
<div class="vline" style="left:202px;top:938px;height:98px"></div>
<div class="hline" style="left:41px;top:962px;width:179px;height:1px"></div>
<div class="hline" style="left:41px;top:965px;width:179px;height:1px"></div>
<div class="hline" style="left:41px;top:989px;width:179px"></div>
<div class="hline" style="left:41px;top:1014px;width:179px"></div>
<div class="cell" style="left:48px;top:940.800px">透射</div>
<div class="cell" style="left:122px;top:940.800px">反射</div>
<div class="cell" style="left:121.500px;top:968.300px">铝反射镜</div>
<div class="sbar"></div>
<div class="sbtn" style="top:939px"></div>
<div class="sbtn" style="top:1016px"></div>
<svg width="19" height="98" viewBox="0 0 19 98" style="position:absolute;left:221px;top:938px"><path d="M5 14l4.500-8 4.500 8zM5 84l4.500 8 4.500-8z" fill="#8e8e8e"/><path d="M6 86h7" stroke="#8e8e8e"/></svg>
<div class="vtxt" style="left:14px;top:1032px">文件</div>
<div class="path"></div>
<div style="left:39px;top:1046px;width:9px;height:24px;background:#c5c5c5"></div>
<svg width="10" height="13" viewBox="0 0 10 13" style="position:absolute;left:38.500px;top:1051.500px" fill="#fff" stroke="#000" stroke-width="1.200"><rect x="1.500" y="1.500" width="3.500" height="3.500"/><path d="M5 5v3.500"/><rect x="4.500" y="8" width="3.500" height="3.500"/></svg>

</div></body></html>
